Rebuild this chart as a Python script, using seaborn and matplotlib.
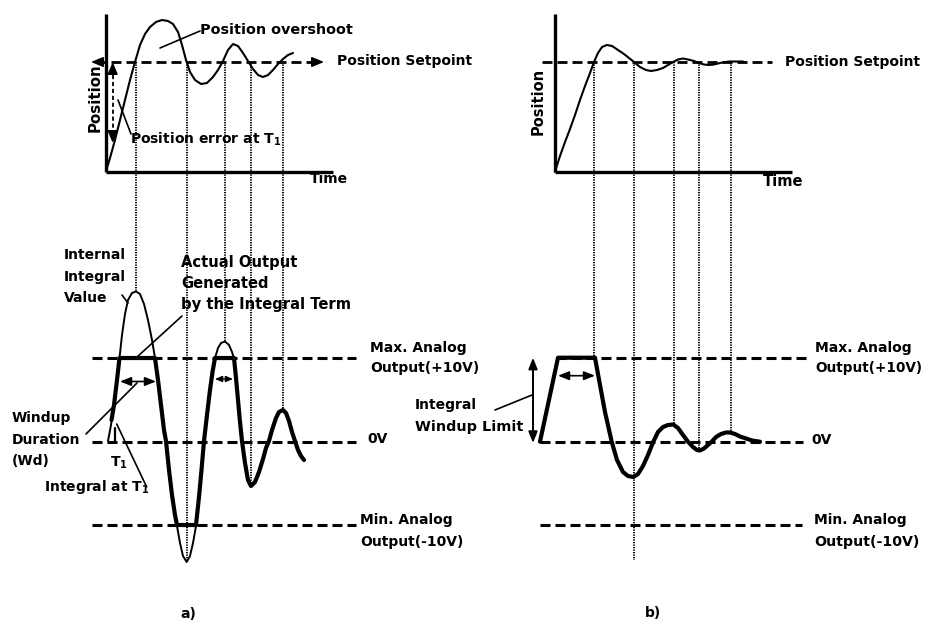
import matplotlib
matplotlib.use("Agg")
import matplotlib.pyplot as plt
import seaborn as sns

# ---- values (pixel coords, y grows downward) ----

# position response, panel a
pos_a_x = [106, 110, 115, 120, 125, 130, 135, 140, 145, 150, 156, 162, 168, 173, 178, 182, 186,
           190, 195, 201, 207, 213, 218, 223, 228, 233, 238, 243, 248, 253, 258, 263, 268, 273,
           278, 283, 288, 293]
pos_a_y = [171, 158, 140, 120, 100, 80, 62, 45, 34, 27, 22, 20, 21, 24, 32, 45, 60,
           72, 80, 84, 83, 77, 70, 61, 50, 44, 46, 53, 61, 69, 75, 77, 75, 70,
           64, 59, 55, 53]

# position response, panel b
pos_b_x = [555, 560, 565, 570, 575, 580, 585, 590, 594, 598, 602, 607, 612, 618, 624, 629, 634,
           640, 646, 651, 657, 663, 668, 673, 678, 683, 688, 694, 699, 704, 709, 714, 720, 725,
           730, 736, 743]
pos_b_y = [171.7, 156, 142, 129, 115, 100, 86, 73, 62, 53, 47, 45, 46, 50, 54, 58, 62,
           67, 70, 71, 70, 68, 65, 62, 59.5, 58.5, 59.5, 61, 63, 64.5, 65, 64.5, 63, 62,
           61.5, 61.5, 61.5]

# internal integral value (thin), panel a
integ_x = [108, 111, 114, 117, 119.5, 122, 125, 128, 132, 136, 140, 144, 148, 152, 155, 158, 161,
           164, 166, 169, 172, 175, 177, 180, 183, 186.7, 190, 193, 196, 199, 201.5, 204, 207,
           210, 212.5, 215, 218, 221, 225, 229, 232, 234, 236, 238, 240, 242]
integ_y = [441, 425, 405, 380, 358, 335, 314, 300, 293, 291.5, 294, 304, 320, 340, 358, 380, 405,
           430, 441, 470, 495, 515, 526, 543, 556, 562, 556, 543, 526, 497, 470, 441, 415,
           390, 372, 358, 348, 343, 341.5, 345, 352, 358, 378, 400, 422, 441]

# actual output (thick), panel a
out_a_x = [111.5, 114, 117, 119.5, 155, 158, 161, 164, 166, 169, 172, 175, 177, 196, 199, 201.5,
           204, 207, 210, 212.5, 215, 234, 236, 238, 240, 242, 245, 248, 251, 255, 259, 263,
           266, 269, 272, 276, 279, 283, 286, 289, 292, 295, 298, 301, 304]
out_a_y = [420, 405, 380, 358, 358, 380, 405, 430, 441, 470, 495, 515, 525, 525, 497, 470,
           441, 415, 390, 372, 358, 358, 378, 400, 422, 441, 463, 480, 486, 482, 472, 459,
           448, 441, 430, 418, 412, 410, 413, 421, 432, 441, 450, 456, 460]

# actual output (thick), panel b
out_b_x = [540, 558, 595, 600, 605, 611.7, 617, 623, 628, 633.3, 638, 643, 648, 653.3, 658, 663,
           668, 673.3, 678, 683, 688, 693, 697, 700, 704, 708, 711.7, 716, 721, 726, 730, 735,
           740, 746, 752, 760]
out_b_y = [441.7, 357.7, 357.7, 385, 412, 441.7, 460, 472, 476, 477, 474, 466, 455, 441.7, 432, 427,
           425, 424.5, 428, 435, 441.7, 447, 450, 450.5, 448.5, 445, 441.7, 437, 434, 432.5, 432.5, 434,
           436.5, 438.5, 440.5, 441.7]

# levels
setpoint_y = 62
max_y, zero_y, min_y = 357.7, 441.7, 525

# dotted guides: x position and lower end
guides_a_x = [136, 186.7, 225, 251, 283]
guides_a_end = [292, 562, 342, 486, 410]
guides_b_x = [594, 634, 674, 699, 730.7]
guides_b_end = [357.7, 560, 425, 451, 433]

sns.set_theme(style="white")
plt.rcParams["font.family"] = ["DejaVu Sans"]
plt.rcParams["font.weight"] = "bold"
plt.rcParams["mathtext.fontset"] = "custom"
plt.rcParams["mathtext.rm"] = "DejaVu Sans:bold"
plt.rcParams["mathtext.it"] = "DejaVu Sans:bold"
plt.rcParams["mathtext.bf"] = "DejaVu Sans:bold"
plt.rcParams["lines.scale_dashes"] = False

fig = plt.figure(figsize=(9.28, 6.29), dpi=100)
ax = fig.add_axes([0, 0, 1, 1])
ax.set_xlim(0, 928)
ax.set_ylim(629, 0)
ax.axis("off")

K = "black"
DASH = (0, (7.2, 3.6))
DOT = (0, (0.9, 0.9))
FS = 10


def txt(x, y, s, size=FS, **kw):
    ax.text(x, y, s, fontsize=size, fontweight="bold", color=K, va="center", ha="left", **kw)


def arrow2(x0, y0, x1, y1, lw=1.2, hl=0.55, hw=0.22):
    ax.annotate("", xy=(x1, y1), xytext=(x0, y0),
                arrowprops=dict(arrowstyle=f"<|-|>,head_length={hl},head_width={hw}",
                                color=K, lw=lw, shrinkA=0, shrinkB=0))


def head(x0, y0, x1, y1):
    ax.annotate("", xy=(x1, y1), xytext=(x0, y0),
                arrowprops=dict(arrowstyle="-|>,head_length=0.6,head_width=0.25",
                                color=K, lw=1.2, shrinkA=0, shrinkB=0))


# ---------- top plots: axes ----------
for x0, x1 in [(106, 333), (555, 792)]:
    ax.plot([x0, x0], [14, 171.7], color=K, lw=2.4, solid_capstyle="butt")
    ax.plot([x0, x1], [171.7, 171.7], color=K, lw=2.4, solid_capstyle="butt")

# setpoint lines
ax.plot([96, 319], [setpoint_y, setpoint_y], color=K, lw=2.0, linestyle=DASH)
head(100, setpoint_y, 91, setpoint_y)
head(315, setpoint_y, 324, setpoint_y)
ax.plot([542, 772], [setpoint_y, setpoint_y], color=K, lw=2.0, linestyle=DASH)

# position curves
sns.lineplot(x=pos_a_x, y=pos_a_y, ax=ax, color=K, lw=1.5, sort=False, estimator=None)
sns.lineplot(x=pos_b_x, y=pos_b_y, ax=ax, color=K, lw=1.5, sort=False, estimator=None)

# position error arrow
ax.plot([112.7, 112.7], [68, 137], color=K, lw=1.3, linestyle=(0, (3, 2)))
head(112.7, 70, 112.7, 62)
head(112.7, 135, 112.7, 143)

# ---------- dotted guides ----------
for gx, ge in zip(guides_a_x + guides_b_x, guides_a_end + guides_b_end):
    ax.plot([gx, gx], [setpoint_y, ge], color=K, lw=1.4, linestyle=DOT)

# ---------- bottom levels ----------
for y in (max_y, zero_y, min_y):
    ax.plot([92, 356], [y, y], color=K, lw=2.2, linestyle=DASH)
ax.plot([556, 809], [max_y, max_y], color=K, lw=2.2, linestyle=DASH)
ax.plot([540, 803], [zero_y, zero_y], color=K, lw=2.2, linestyle=DASH)
ax.plot([540, 802], [min_y, min_y], color=K, lw=2.2, linestyle=DASH)

# integral curves
sns.lineplot(x=integ_x, y=integ_y, ax=ax, color=K, lw=1.4, sort=False, estimator=None)
sns.lineplot(x=out_a_x, y=out_a_y, ax=ax, color=K, lw=3.0, sort=False, estimator=None)
sns.lineplot(x=out_b_x, y=out_b_y, ax=ax, color=K, lw=3.0, sort=False, estimator=None)

# T1 tick
ax.plot([115, 115], [428, 441.7], color=K, lw=1.6)

# windup arrows
arrow2(120, 381.5, 156, 381.5)
arrow2(215, 379, 233, 379, lw=1.0, hl=0.35, hw=0.15)
arrow2(558, 375.7, 595, 375.7)
arrow2(533, 357.7, 533, 443, lw=1.4)

# leader lines
leaders = [((160, 48), (200, 31)), ((118, 100), (131, 134)), ((122, 295), (128, 303)),
           ((182, 316), (137, 357)), ((86, 434), (137, 383)), ((116.7, 424), (146.7, 487)),
           ((495, 410), (532, 395))]
for (x0, y0), (x1, y1) in leaders:
    ax.plot([x0, x1], [y0, y1], color=K, lw=1.2)

# ---------- text ----------
txt(200, 30, "Position overshoot", size=10.4)
txt(337, 61, "Position Setpoint")
txt(785, 62, "Position Setpoint")
txt(130, 139, r"Position error at T$_{1}$")
txt(310, 179, "Time")
txt(763, 181, "Time", size=10.6)
ax.text(95, 98, "Position", fontsize=10.8, fontweight="bold", color=K,
        rotation=90, ha="center", va="center")
ax.text(538, 101, "Position", fontsize=10.5, fontweight="bold", color=K,
        rotation=90, ha="center", va="center")

for i, s in enumerate(["Internal", "Integral", "Value"]):
    txt(64, 255 + 21.5 * i, s)
for i, s in enumerate(["Actual Output", "Generated", "by the Integral Term"]):
    txt(181, 262 + 21.5 * i, s, size=10.6)
for i, s in enumerate(["Windup", "Duration", "(Wd)"]):
    txt(12, 418 + 21.5 * i, s)
txt(110, 463, r"T$_{1}$")
txt(44, 487, r"Integral at T$_{1}$")

txt(370, 348, "Max. Analog")
txt(370, 368, "Output(+10V)")
txt(367, 439, "0V")
txt(360, 520, "Min. Analog")
txt(360, 542, "Output(-10V)")

txt(815, 348, "Max. Analog")
txt(815, 368, "Output(+10V)", size=9.8)
txt(811, 440, "0V")
txt(814, 520, "Min. Analog")
txt(814, 542, "Output(-10V)", size=10.2)

txt(415, 405, "Integral")
txt(415, 427, "Windup Limit", size=10.4)

txt(180, 614, "a)")
txt(645, 613, "b)")

fig.savefig("out.png", dpi=100)
